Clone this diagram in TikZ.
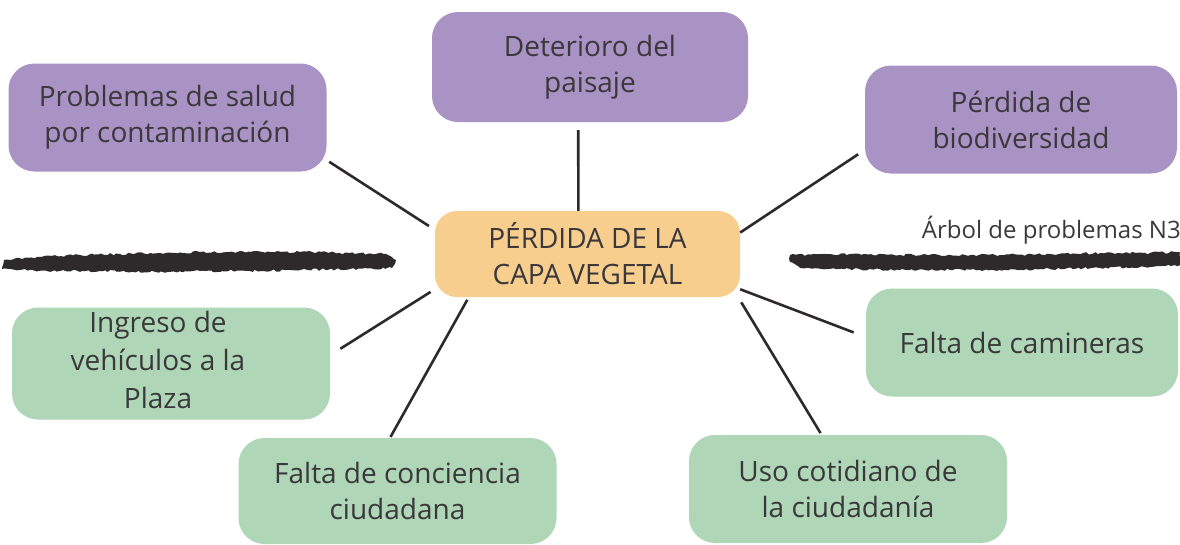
\documentclass[tikz,border=0pt]{standalone}
\usepackage{fontspec}
\setmainfont{Open Sans}
\usepackage{tikz}
\usetikzlibrary{decorations.pathmorphing}
\definecolor{efectoc}{RGB}{169,147,197}
\definecolor{causac}{RGB}{174,214,183}
\definecolor{problemac}{RGB}{248,206,143}
\definecolor{textoc}{RGB}{58,56,58}
\definecolor{trazoc}{RGB}{46,42,43}
\tikzset{
  caja/.style     = {rounded corners=26pt, align=center, inner sep=0pt, text=textoc,
                     font=\fontsize{28}{36}\selectfont, minimum width=318pt, minimum height=108pt},
  efecto/.style   = {caja, fill=efectoc},
  causa/.style    = {caja, fill=causac},
  problema/.style = {caja, fill=problemac, rounded corners=22pt,
                     minimum width=305pt, minimum height=86pt},
  enlace/.style   = {draw=trazoc, line width=2.6pt},
  trazo/.style    = {fill=trazoc, decorate,
                     decoration={random steps, segment length=3pt, amplitude=1.2pt}},
  rotulo/.style   = {font=\fontsize{24}{28}\selectfont, text=textoc, inner sep=0pt},
}

\begin{document}
\begin{tikzpicture}[x=1pt, y=-1pt]
\useasboundingbox (0,0) rectangle (1180,544);
\pgfmathsetseed{7}

% efectos
\node[efecto] (salud) at (167.5,117.5) {Problemas de salud\\por contaminación};
\node[efecto, minimum width=316pt, minimum height=110pt] (paisaje) at (590,67) {Deterioro del\\paisaje};
\node[efecto, minimum width=312pt] (biodiv) at (1021,119.5) {Pérdida de\\biodiversidad};

% problema central
\node[problema] (capa) at (587.5,254) {PÉRDIDA DE LA\\CAPA VEGETAL};

% causas
\node[causa] (ingreso) at (171,363.5)
  {\begin{tabular}{@{}c@{\hspace{26pt}}}Ingreso de\\[2pt]vehículos a la\\[2pt]Plaza\end{tabular}};
\node[causa, minimum width=312pt] (caminera) at (1022,342.5) {Falta de camineras};
\node[causa, minimum height=106pt] (conciencia) at (397.5,491) {Falta de conciencia\\ciudadana};
\node[causa] (uso) at (848,489) {Uso cotidiano de\\la ciudadanía};

\node[rotulo, anchor=east] (titulo) at (1181,230) {Árbol de problemas N3};

% trazos de pincel
\path[trazo] (4,260) -- (40,257) -- (80,255) -- (120,254) -- (160,253) -- (200,252)
  -- (250,252) -- (300,252) -- (350,253) -- (386,254) -- (396,260) -- (392,268)
  -- (350,269) -- (300,270) -- (250,271) -- (200,271) -- (150,272) -- (100,271)
  -- (60,271) -- (20,270) -- (2,269) -- cycle;
\path[trazo] (790,255) -- (850,254) -- (900,255) -- (950,255) -- (1000,255) -- (1050,254)
  -- (1100,253) -- (1150,253) -- (1180,252) -- (1180,265) -- (1150,267) -- (1100,268)
  -- (1050,269) -- (1000,270) -- (950,270) -- (900,270) -- (850,269) -- (800,268)
  -- (790,262) -- cycle;

% enlaces
\draw[enlace, shorten <=3pt, shorten >=7pt] (salud.-15) -- (capa.171);
\draw[enlace, shorten <=8pt] (paisaje.-102) -- (capa.102);
\draw[enlace, shorten <=8pt] (biodiv.-169) -- (capa.8);
\draw[enlace, shorten <=12pt, shorten >=5pt] (ingreso.3) -- (capa.-167.5);
\draw[enlace, shorten <=1pt, shorten >=3pt] (conciencia.98) -- (capa.-160);
\draw[enlace, shorten >=13pt] (capa.-13) -- (caminera.178);
\draw[enlace, shorten <=6pt, shorten >=2pt] (capa.-16.4) -- (uso.116);

\end{tikzpicture}
\end{document}
